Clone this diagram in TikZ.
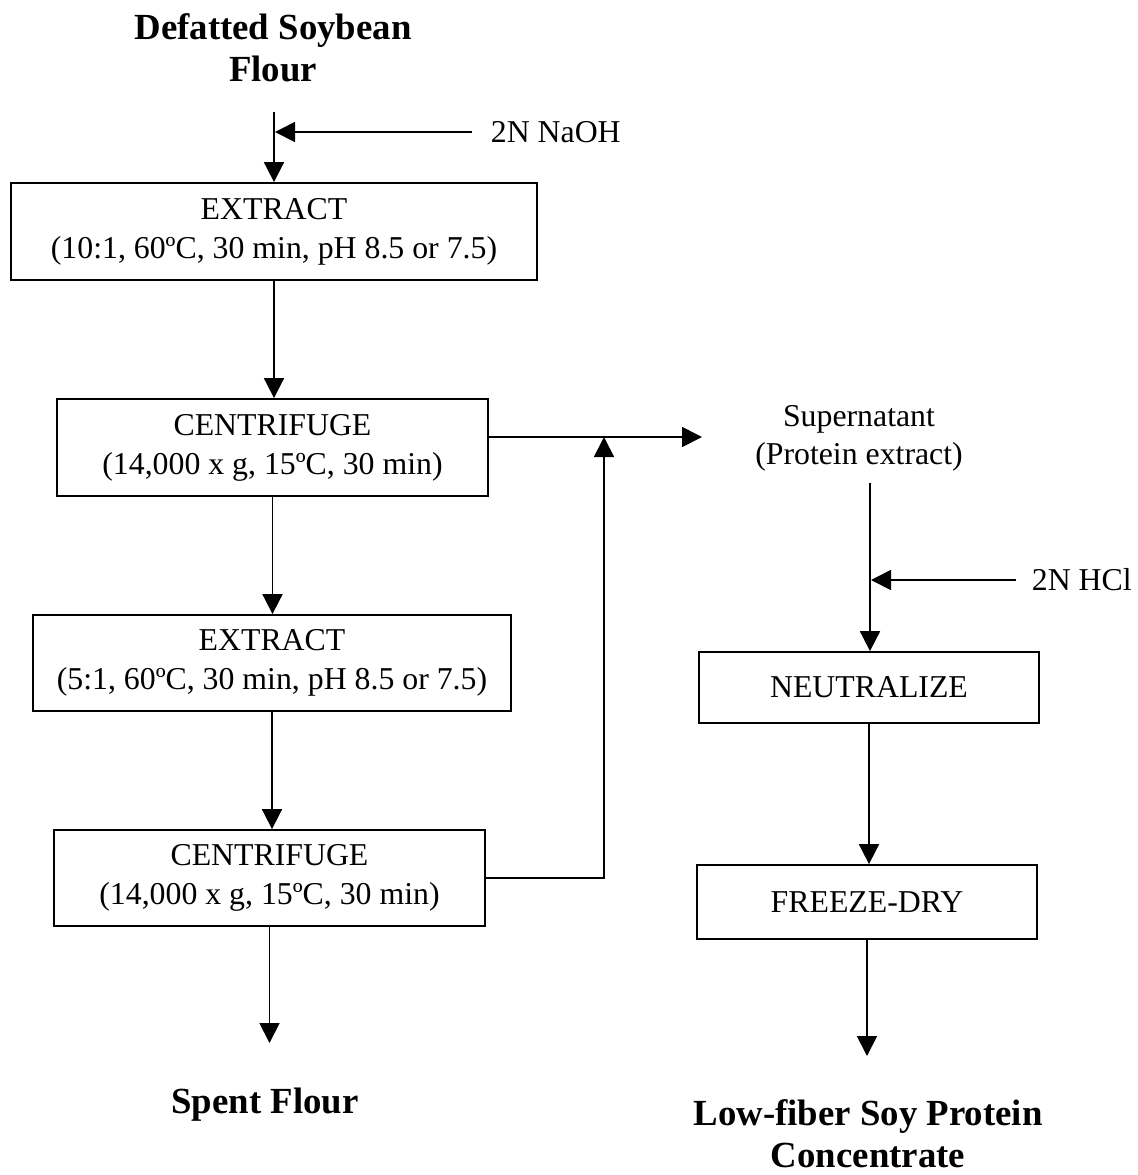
\documentclass[tikz,border=0pt]{standalone}
\usepackage{fontspec}
\setmainfont{Liberation Serif}
\usetikzlibrary{arrows.meta}
\begin{document}
\begin{tikzpicture}[x=0.5pt,y=-0.5pt,
  line width=0.9pt,
  arr/.style={-{Triangle[length=10pt,width=10pt]}},
  stage/.style={draw,line width=0.9pt,inner sep=0pt,align=center,
    font=\fontsize{15.9}{19.5}\selectfont},
  lbl/.style={inner sep=0pt,align=center,font=\fontsize{15.9}{19}\selectfont},
  head/.style={inner sep=0pt,align=center,font=\fontsize{18.4}{21}\selectfont\bfseries}]
\useasboundingbox (0,0) rectangle (1138,1175);

% starting material and reagents
\node[head] (flour) at (273,48) {Defatted Soybean\\Flour};
\node[lbl,anchor=west] (naoh) at (490,132) {2N NaOH};
\coordinate (top) at (274,112);
\coordinate (naohend) at (472,132);
\coordinate (naohjoin) at (275,132);

% left column: extraction and centrifugation
\node[stage,minimum width=263pt,minimum height=48.5pt] (ext1) at (274,231.5)
  {EXTRACT\\(10:1, 60ºC, 30 min, pH 8.5 or 7.5)};
\node[stage,minimum width=215.5pt,minimum height=48.5pt] (cen1) at (272.5,447.5)
  {CENTRIFUGE\\(14,000 x g, 15ºC, 30 min)};
\node[stage,minimum width=239pt,minimum height=48pt] (ext2) at (272,663)
  {EXTRACT\\(5:1, 60ºC, 30 min, pH 8.5 or 7.5)};
\node[stage,minimum width=215.5pt,minimum height=48pt] (cen2) at (269.5,878)
  {CENTRIFUGE\\(14,000 x g, 15ºC, 30 min)};
\coordinate (spentend) at (270,1043);
\node[head] (spent) at (265,1105) {Spent Flour};

% right column: protein extract processing
\node[lbl] (super) at (859,438) {Supernatant\\(Protein extract)};
\coordinate (superend) at (702,437);
\coordinate (retx) at (604,878);
\coordinate (rettop) at (604,437);
\coordinate (supbot) at (870,483);
\node[lbl,anchor=west] (hcl) at (1031,580) {2N HCl};
\coordinate (hclend) at (1016,580);
\coordinate (hcljoin) at (871,580);
\node[stage,minimum width=170pt,minimum height=35.5pt] (neut) at (869,687.5)
  {NEUTRALIZE};
\node[stage,minimum width=170pt,minimum height=37pt] (fdry) at (867,902)
  {FREEZE-DRY};
\coordinate (prodend) at (867,1056);
\node[head] (prod) at (868,1134) {Low-fiber Soy Protein\\Concentrate};

% connectors
\draw[arr] (top) -- (top |- ext1.north);
\draw[arr] (naohend) -- (naohjoin);
\draw[arr] (ext1.south) -- (ext1.south |- cen1.north);
\draw[arr] (cen1.south) -- (cen1.south |- ext2.north);
\draw[arr] (ext2.south) -- (ext2.south |- cen2.north);
\draw[arr] (cen2.south) -- (cen2.south |- spentend);
\draw[arr] (cen1.east |- superend) -- (superend);
\draw[arr] (cen2.east) -- (retx) -- (rettop);
\draw[arr] (supbot) -- (supbot |- neut.north);
\draw[arr] (hclend) -- (hcljoin);
\draw[arr] (neut.south) -- (neut.south |- fdry.north);
\draw[arr] (fdry.south) -- (fdry.south |- prodend);
\end{tikzpicture}
\end{document}
